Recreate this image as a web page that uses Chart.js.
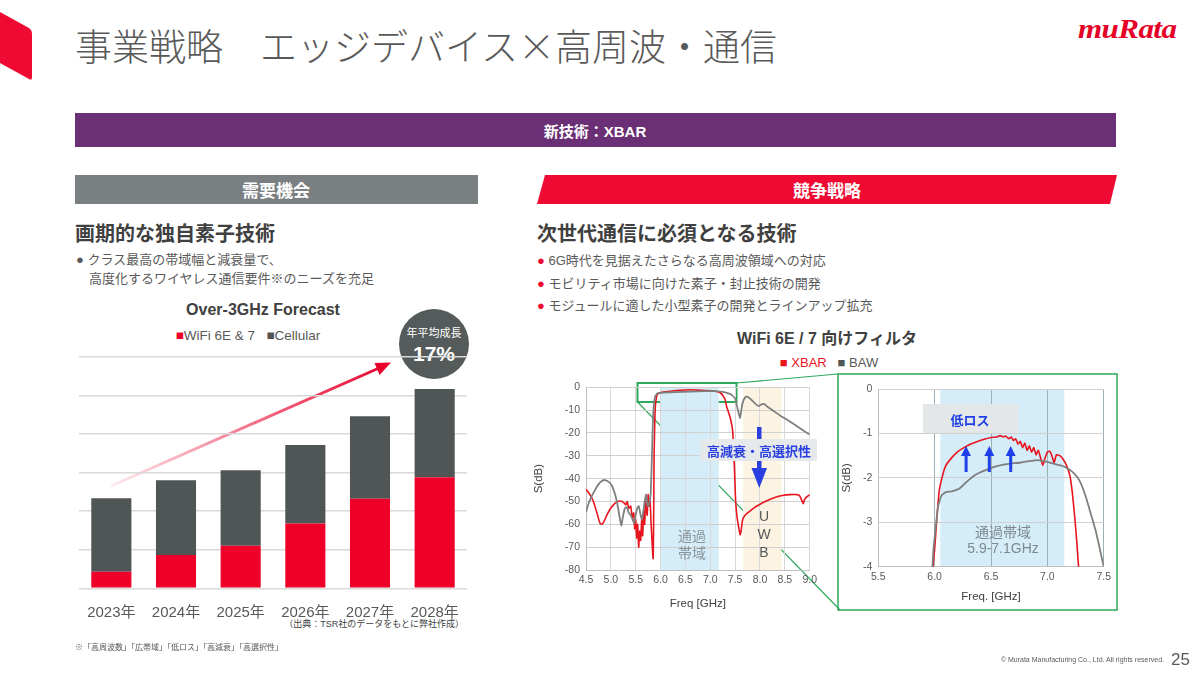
<!DOCTYPE html>
<html>
<head>
<meta charset="utf-8">
<script src="https://cdn.jsdelivr.net/npm/chart.js@4"></script>
<style>
  body { margin: 0; background: #fff; }
  #slide { position: relative; width: 1200px; height: 675px; overflow: hidden;
    font-family: "Liberation Sans", "Noto Sans CJK JP", sans-serif; color: #595959; }
  .abs { position: absolute; white-space: nowrap; }
  .c { transform: translate(-50%, -50%); }
  canvas { position: absolute; }
</style>
</head>
<body>
<div id="slide">
  <svg class="abs" style="left:0;top:0" width="1200" height="675">
    <!-- corner mark -->
    <path d="M0 12 L29 28 Q32 30 32 34 L32 77 Q32 81 29 79 L0 63 Z" fill="#EE0A32"/>
    <!-- section bars -->
    <rect x="75" y="113" width="1041" height="34" fill="#6A2F74"/>
    <rect x="75" y="175" width="403" height="29" fill="#7A7F81"/>
    <path d="M545 175 L1117 175 L1110 204 L537 204 Z" fill="#EE0A32"/>
    <!-- growth arrow -->
    <defs>
      <linearGradient id="ag" x1="111" y1="486" x2="390" y2="363" gradientUnits="userSpaceOnUse">
        <stop offset="0" stop-color="#E8002A" stop-opacity="0.08"/>
        <stop offset="1" stop-color="#E8002A"/>
      </linearGradient>
    </defs>
    <line x1="111" y1="486" x2="378" y2="368.5" stroke="url(#ag)" stroke-width="3"/>
    <polygon points="391,362.5 379.6,375 374.5,363" fill="#E8002A"/>
    <circle cx="434" cy="344" r="35" fill="#545B5A"/>
    <!-- zoom link -->
    <rect x="637.5" y="383" width="99" height="19" fill="none" stroke="#2EA85A" stroke-width="2"/>
    <line x1="736.5" y1="383" x2="838" y2="374" stroke="#2EA85A" stroke-width="1.2"/>
    <line x1="637.5" y1="402" x2="840" y2="610" stroke="#2EA85A" stroke-width="1.2"/>
    <rect x="838" y="374" width="279" height="236" fill="none" stroke="#2EA85A" stroke-width="1.5"/>
  </svg>

  <div class="abs" style="left:75px;top:25px;font-size:37px;font-weight:300;color:#595959;font-family:'Noto Sans CJK JP',sans-serif;line-height:40px">事業戦略　エッジデバイス×高周波・通信</div>
  <div class="abs" style="left:1078px;top:14px;font-family:'Liberation Serif',serif;font-style:italic;font-weight:bold;font-size:27px;color:#E60027;transform:scaleX(1.15);transform-origin:left top;letter-spacing:-0.5px">muRata</div>

  <div class="abs c" style="left:595px;top:130px;color:#fff;font-weight:bold;font-size:15px">新技術：XBAR</div>
  <div class="abs c" style="left:276px;top:189px;color:#fff;font-weight:bold;font-size:17px">需要機会</div>
  <div class="abs c" style="left:827px;top:189px;color:#fff;font-weight:bold;font-size:17px">競争戦略</div>

  <div class="abs" style="left:75px;top:218px;font-weight:bold;font-size:20px;color:#404040">画期的な独自素子技術</div>
  <div class="abs" style="left:76px;top:250px;font-size:13px;line-height:19px;color:#595959">● クラス最高の帯域幅と減衰量で、<br><span style="padding-left:13px">高度化するワイヤレス通信要件※のニーズを充足</span></div>

  <div class="abs" style="left:537px;top:218px;font-weight:bold;font-size:20px;color:#404040">次世代通信に必須となる技術</div>
  <div class="abs" style="left:537px;top:250px;font-size:13px;line-height:22.5px;color:#595959">
    <span style="color:#EE0A32">●</span> 6G時代を見据えたさらなる高周波領域への対応<br>
    <span style="color:#EE0A32">●</span> モビリティ市場に向けた素子・封止技術の開発<br>
    <span style="color:#EE0A32">●</span> モジュールに適した小型素子の開発とラインアップ拡充
  </div>

  <!-- bar chart texts -->
  <div class="abs c" style="left:263px;top:310px;font-weight:bold;font-size:16px;color:#404040">Over-3GHz Forecast</div>
  <div class="abs c" style="left:248px;top:335px;font-size:13.5px;color:#595959"><span style="color:#EF0029">■</span>WiFi 6E &amp; 7 &nbsp; <span style="color:#505556">■</span>Cellular</div>
  <div class="abs c" style="left:434px;top:332px;color:#fff;font-size:11px">年平均成長</div>
  <div class="abs c" style="left:434px;top:354px;color:#fff;font-size:21px;font-weight:bold">17%</div>
  <div class="abs" style="right:736px;top:617px;font-size:9px;color:#404040">（出典：TSR社のデータをもとに弊社作成）</div>

  <!-- filter chart texts -->
  <div class="abs c" style="left:827px;top:337px;font-weight:bold;font-size:16px;color:#404040">WiFi 6E / 7 向けフィルタ</div>
  <div class="abs c" style="left:829px;top:362px;font-size:13px;color:#595959"><span style="color:#E8141E">■ XBAR</span> &nbsp; <span style="color:#505556">■</span> BAW</div>

  <canvas id="barChart" width="410" height="270" style="left:70px;top:350px"></canvas>
  <canvas id="wideChart" width="289" height="240" style="left:532px;top:375px"></canvas>
  <canvas id="zoomChart" width="275" height="232" style="left:840px;top:376px"></canvas>

  <svg class="abs" style="left:0;top:0" width="1200" height="675">
    <rect x="757" y="427" width="4.5" height="48" fill="#2A3FE0"/>
    <polygon points="751.5,468 767,468 759.3,488" fill="#2A3FE0"/>
    <rect x="700" y="439" width="117" height="22" fill="#E6E9EC"/>
    <rect x="923" y="404" width="95" height="29" fill="#E4E7E8"/>
    <g fill="#1F3FE8">
      <rect x="964.6" y="453" width="3" height="19"/><polygon points="961,456 971,456 966,446"/>
      <rect x="987.8" y="453" width="3" height="19"/><polygon points="984.3,456 994.3,456 989.3,446"/>
      <rect x="1009.2" y="453" width="3" height="19"/><polygon points="1005.7,456 1015.7,456 1010.7,446"/>
    </g>
  </svg>
  <div class="abs c" style="left:759px;top:450px;font-weight:bold;font-size:13px;color:#2A3FE0">高減衰・高選択性</div>
  <div class="abs c" style="left:692px;top:545px;font-size:14px;line-height:17px;color:#8A9499;text-align:center">通過<br>帯域</div>
  <div class="abs c" style="left:764px;top:534px;font-size:14px;line-height:18px;color:#595959;text-align:center">U<br>W<br>B</div>
  <div class="abs c" style="left:970px;top:419px;font-weight:bold;font-size:13px;color:#1F3FE8">低ロス</div>
  <div class="abs c" style="left:1003px;top:540px;font-size:14px;line-height:16px;color:#7F8A8F;text-align:center">通過帯域<br>5.9-7.1GHz</div>

  <div class="abs" style="left:75px;top:641px;font-size:8px;color:#595959">※「高周波数」「広帯域」「低ロス」「高減衰」「高選択性」</div>
  <div class="abs" style="right:36px;top:656px;font-size:7px;color:#595959">© Murata Manufacturing Co., Ltd. All rights reserved.</div>
  <div class="abs" style="left:1171px;top:650px;font-size:17px;color:#595959">25</div>
</div>

<script>
// Over-3GHz forecast (units = grid steps, no axis values shown)
const years = ["2023年", "2024年", "2025年", "2026年", "2027年", "2028年"];
const wifiShare = [0.43, 0.86, 1.10, 1.68, 2.32, 2.88];
const cellularShare = [1.90, 1.94, 1.96, 2.03, 2.14, 2.28];

// Filter response, [GHz, dB]
const xbarWide = [
  [4.50,-44.6],[4.58,-47],[4.65,-50],[4.72,-55],[4.78,-59.5],[4.82,-60],[4.86,-58.8],[4.92,-56],
  [4.98,-53.5],[5.05,-51.5],[5.12,-50.2],[5.20,-49.8],[5.26,-50.5],[5.30,-51.5],[5.33,-50],[5.36,-53],
  [5.40,-52],[5.43,-57],[5.46,-55],[5.48,-62],[5.50,-58],[5.52,-66],[5.54,-60],[5.56,-70],[5.58,-63],
  [5.60,-67],[5.62,-58],[5.64,-65],[5.66,-54],[5.68,-60],[5.70,-50],[5.73,-56],[5.75,-47],[5.77,-52],
  [5.79,-50],[5.81,-60],[5.83,-68],[5.85,-75],[5.86,-60],[5.87,-30],[5.89,-10],[5.92,-4],[5.96,-2.6],
  [6.05,-2.1],[6.2,-1.7],[6.4,-1.3],[6.6,-1.1],[6.8,-1.3],[7.0,-1.5],[7.12,-1.8],[7.2,-2.4],[7.26,-3.8],
  [7.30,-5.5],[7.33,-8.5],[7.36,-10.5],[7.39,-12.5],[7.42,-15],[7.45,-19],[7.47,-27],[7.49,-38],
  [7.51,-50],[7.54,-57],[7.57,-61],[7.60,-64.5],[7.62,-63],[7.65,-58],[7.70,-56],[7.78,-54.5],
  [7.88,-52.8],[8.0,-51.2],[8.15,-49.6],[8.3,-48.3],[8.45,-47.4],[8.6,-47],[8.75,-47],[8.80,-47.6],
  [8.84,-49.5],[8.87,-51],[8.90,-49],[8.94,-48],[9.0,-47]
];
const bawWide = [
  [4.5,-54.7],[4.55,-51],[4.61,-48],[4.68,-45],[4.75,-42.5],[4.82,-41],[4.88,-40.6],[4.95,-41.3],
  [5.02,-43],[5.08,-46.5],[5.13,-51],[5.17,-56],[5.21,-60.5],[5.24,-57],[5.28,-53],[5.32,-52.5],
  [5.36,-55],[5.40,-56],[5.44,-58],[5.47,-59.5],[5.50,-56],[5.53,-53],[5.56,-52],[5.59,-55],[5.62,-58],
  [5.65,-55],[5.68,-50],[5.71,-47],[5.74,-52],[5.77,-51],[5.80,-47],[5.82,-35],[5.84,-19],[5.86,-9],
  [5.89,-4],[5.94,-2.6],[6.05,-2.3],[6.3,-2.1],[6.6,-1.9],[6.9,-1.7],[7.1,-1.7],[7.3,-2.2],[7.42,-3.2],
  [7.5,-5],[7.55,-9.5],[7.60,-13.5],[7.63,-9],[7.67,-5.5],[7.72,-4.1],[7.78,-4.6],[7.85,-6],[7.92,-7.5],
  [7.97,-8.2],[8.02,-7.6],[8.08,-7.3],[8.15,-8.5],[8.25,-10],[8.4,-12.3],[8.55,-14.3],[8.7,-16.4],
  [8.85,-18.6],[9.0,-20.7]
];
const xbarZoom = [
  [5.97,-4.4],[6.0,-3.6],[6.02,-2.9],[6.04,-2.3],[6.07,-1.95],[6.10,-1.72],[6.15,-1.55],[6.20,-1.42],
  [6.26,-1.32],[6.32,-1.24],[6.38,-1.18],[6.44,-1.13],[6.50,-1.09],[6.55,-1.08],[6.58,-1.05],[6.61,-1.08],
  [6.63,-1.06],[6.66,-1.12],[6.68,-1.08],[6.70,-1.16],[6.72,-1.12],[6.74,-1.24],[6.76,-1.18],[6.78,-1.32],
  [6.80,-1.22],[6.82,-1.38],[6.84,-1.28],[6.86,-1.42],[6.88,-1.32],[6.90,-1.48],[6.92,-1.38],[6.94,-1.55],
  [6.96,-1.72],[6.98,-1.55],[7.00,-1.42],[7.02,-1.40],[7.04,-1.50],[7.06,-1.66],[7.08,-1.48],[7.11,-1.50],
  [7.14,-1.58],[7.17,-1.72],[7.20,-1.95],[7.22,-2.3],[7.24,-2.8],[7.26,-3.4],[7.28,-4.1],[7.30,-4.6]
];
const bawZoom = [
  [5.97,-4.4],[5.99,-3.6],[6.01,-3.1],[6.03,-2.65],[6.06,-2.4],[6.10,-2.32],[6.16,-2.3],[6.22,-2.24],
  [6.28,-2.1],[6.34,-1.97],[6.40,-1.88],[6.46,-1.82],[6.52,-1.76],[6.58,-1.72],[6.64,-1.69],[6.70,-1.67],
  [6.76,-1.66],[6.82,-1.63],[6.88,-1.61],[6.92,-1.60],[6.98,-1.63],[7.04,-1.67],[7.10,-1.71],[7.16,-1.76],
  [7.22,-1.86],[7.27,-2.0],[7.31,-2.2],[7.35,-2.5],[7.39,-2.85],[7.43,-3.2],[7.47,-3.65],[7.50,-4.0],[7.52,-4.4]
];
const passBandWide = [6.0, 7.17];
const uwbBand = [7.66, 8.43];
const passBandZoom = [6.05, 7.15];

Chart.defaults.font.family = '"Liberation Sans", "Noto Sans CJK JP", sans-serif';
Chart.defaults.color = "#595959";
Chart.defaults.animation = false;

const RED = "#EF0029";
const DARK = "#505556";

// shaded frequency bands, drawn under the grid
function bandPlugin(bands) {
  return {
    id: "bands",
    beforeDraw(chart) {
      const { ctx, chartArea, scales } = chart;
      ctx.save();
      bands.forEach(([lo, hi, color]) => {
        const x1 = scales.x.getPixelForValue(lo);
        const x2 = scales.x.getPixelForValue(hi);
        ctx.fillStyle = color;
        ctx.fillRect(x1, chartArea.top, x2 - x1, chartArea.bottom - chartArea.top);
      });
      ctx.restore();
    }
  };
}

const toXY = arr => arr.map(([x, y]) => ({ x, y }));

// Stacked forecast bars
new Chart(document.getElementById("barChart"), {
  type: "bar",
  data: {
    labels: years,
    datasets: [
      { label: "WiFi 6E & 7", data: wifiShare, backgroundColor: RED },
      { label: "Cellular", data: cellularShare, backgroundColor: DARK }
    ]
  },
  options: {
    responsive: false,
    layout: { padding: { left: 9, right: 13, top: 6.7, bottom: 0 } },
    datasets: { bar: { categoryPercentage: 1, barPercentage: 0.62 } },
    plugins: { legend: { display: false }, tooltip: { enabled: false } },
    scales: {
      x: {
        stacked: true,
        grid: { display: false },
        border: { display: false },
        ticks: { font: { size: 15 }, color: "#595959", padding: 8 },
        afterFit: s => { s.height = 31.7; }
      },
      y: {
        stacked: true, min: 0, max: 6,
        ticks: { display: false, stepSize: 1 },
        grid: { color: "#D9D9D9", lineWidth: 1.5, drawTicks: false },
        border: { display: false },
        afterFit: s => { s.width = 0; }
      }
    }
  }
});

function lineOpts(cfg) {
  return {
    responsive: false,
    layout: { padding: cfg.padding },
    plugins: { legend: { display: false }, tooltip: { enabled: false } },
    elements: { point: { radius: 0 }, line: { tension: 0.15 } },
    scales: {
      x: {
        type: "linear", min: cfg.xMin, max: cfg.xMax,
        ticks: { stepSize: 0.5, callback: v => v.toFixed(1), font: { size: 10.5 }, color: "#595959", maxRotation: 0, padding: 4 },
        grid: { color: cfg.xGrid, drawTicks: false },
        border: { color: "#BFBFBF" },
        title: { display: true, text: cfg.xTitle, font: { size: 11.5 }, color: "#404040", padding: { top: 6 } },
        afterFit: s => { s.height = cfg.xHeight; }
      },
      y: {
        min: cfg.yMin, max: 0,
        ticks: { stepSize: cfg.yStep, font: { size: 10.5 }, color: "#595959", padding: 6 },
        grid: { color: "#D0D0D0", drawTicks: false },
        border: { color: "#BFBFBF" },
        title: { display: true, text: "S(dB)", font: { size: 11.5 }, color: "#404040", padding: 0 },
        afterFit: s => { s.width = cfg.yWidth; }
      }
    }
  };
}

// Wide-span response
new Chart(document.getElementById("wideChart"), {
  type: "line",
  data: {
    datasets: [
      { label: "BAW", data: toXY(bawWide), borderColor: "#7F7F7F", borderWidth: 1.8 },
      { label: "XBAR", data: toXY(xbarWide), borderColor: "#E8141E", borderWidth: 1.6 }
    ]
  },
  options: lineOpts({
    padding: { top: 10.7, right: 8.3 }, xMin: 4.5, xMax: 9.0, yMin: -80, yStep: 10,
    xGrid: "#D9D9D9", xTitle: "Freq [GHz]", xHeight: 45, yWidth: 54
  }),
  plugins: [bandPlugin([[...passBandWide, "#D4EDF9"], [...uwbBand, "#FCF3E2"]])]
});

// Passband detail
new Chart(document.getElementById("zoomChart"), {
  type: "line",
  data: {
    datasets: [
      { label: "BAW", data: toXY(bawZoom), borderColor: "#7F7F7F", borderWidth: 1.8 },
      { label: "XBAR", data: toXY(xbarZoom), borderColor: "#E8141E", borderWidth: 1.6 }
    ]
  },
  options: lineOpts({
    padding: { top: 13, right: 10 }, xMin: 5.5, xMax: 7.5, yMin: -4, yStep: 1,
    xGrid: "#9FAEB6", xTitle: "Freq. [GHz]", xHeight: 41.3, yWidth: 38.3
  }),
  plugins: [bandPlugin([[...passBandZoom, "#D4EDF9"]])]
});
</script>
</body>
</html>
